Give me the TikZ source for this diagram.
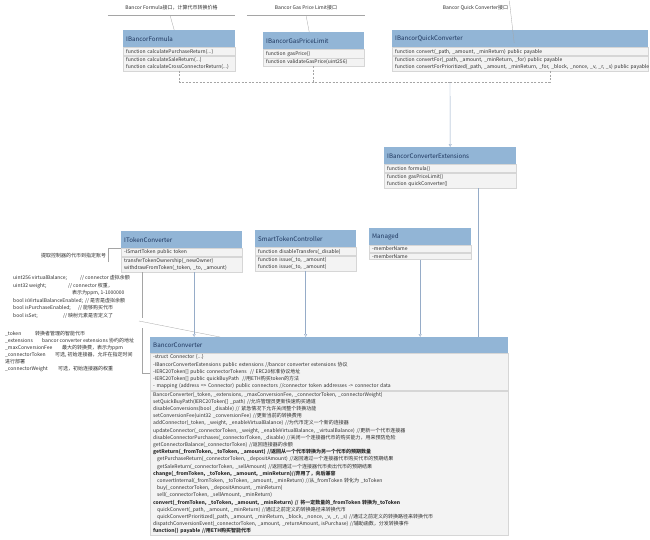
\documentclass[tikz,border=0pt]{standalone}
\usepackage{fontspec}
\setmainfont{Noto Sans CJK SC}
\usetikzlibrary{positioning,arrows.meta}
\definecolor{headblue}{RGB}{146,181,214}
\definecolor{headtext}{RGB}{28,52,92}
\definecolor{rowgray}{RGB}{243,243,243}
\definecolor{rowline}{RGB}{214,214,214}
\definecolor{rowtext}{RGB}{45,45,45}
\definecolor{linkblue}{RGB}{150,172,200}
\definecolor{notegray}{RGB}{165,165,165}
\newcommand{\rowsize}{\fontsize{5}{7.2}\selectfont}
\newcommand{\headsize}{\fontsize{6.2}{7.5}\selectfont}
\tikzset{
	classhead/.style={anchor=north west,fill=headblue,text=headtext,font=\headsize,inner xsep=3pt,inner ysep=0pt,minimum height=17pt,align=left},
	classrow/.style={fill=rowgray,draw=rowline,line width=0.3pt,text=rowtext,font=\rowsize,inner xsep=3pt,inner ysep=1.4pt,align=left},
	notetext/.style={text=rowtext,font=\rowsize,inner sep=0pt,align=left},
	noteline/.style={draw=notegray,line width=0.3pt},
	realize/.style={draw=notegray,line width=0.4pt,dash pattern=on 2pt off 1.5pt},
	inherit/.style={draw=linkblue,line width=0.4pt,-{Triangle[open,length=3pt,width=3pt]}},
}
\begin{document}
\begin{tikzpicture}[x=1pt,y=-1pt]
		\useasboundingbox [fill=white] (0,0) rectangle (650,539);
		%\draw [help lines,step=50] (0,0) grid (650,539);
		\node [classhead,text width=106pt] (formula) at (123,30) {IBancorFormula};
		\node [classrow,text width=106pt,below right=0pt and 0pt of formula.south west] (formula1) {function calculatePurchaseReturn(...)};
		\node [classrow,text width=106pt,below right=0pt and 0pt of formula1.south west] (formula2) {function calculateSaleReturn(...)\\function calculateCrossConnectorReturn(...)};
		\node [classhead,text width=95pt] (gas) at (263,32) {IBancorGasPriceLimit};
		\node [classrow,text width=95pt,below right=0pt and 0pt of gas.south west] (gas1) {function gasPrice()};
		\node [classrow,text width=95pt,below right=0pt and 0pt of gas1.south west] (gas2) {function validateGasPrice(uint256)};
		\node [classhead,text width=250pt] (quick) at (392,30) {IBancorQuickConverter};
		\node [classrow,text width=250pt,below right=0pt and 0pt of quick.south west] (quick1) {function convert(\_path, \_amount, \_minReturn) public payable};
		\node [classrow,text width=250pt,below right=0pt and 0pt of quick1.south west] (quick2) {function convertFor(\_path, \_amount, \_minReturn, \_for) public payable\\\mbox{function convertForPrioritized(\_path, \_amount, \_minReturn, \_for, \_block, \_nonce, \_v, \_r, \_s) public payable}};
		\node [classhead,text width=126pt] (ext) at (384,147) {IBancorConverterExtensions};
		\node [classrow,text width=126pt,below right=0pt and 0pt of ext.south west] (ext1) {function formula()};
		\node [classrow,text width=126pt,below right=0pt and 0pt of ext1.south west] (ext2) {function gasPriceLimit()\\function quickConverter()};
		\node [classhead,text width=115pt] (tokconv) at (121,231) {ITokenConverter};
		\node [classrow,text width=115pt,below right=0pt and 0pt of tokconv.south west] (tokconv1) {-ISmartToken public token};
		\node [classrow,text width=115pt,below right=0pt and 0pt of tokconv1.south west] (tokconv2) {transferTokenOwnership(\_newOwner)\\withdrawFromToken(\_token, \_to, \_amount)};
		\node [classhead,text width=95pt] (smart) at (255,230) {SmartTokenController};
		\node [classrow,text width=95pt,below right=0pt and 0pt of smart.south west] (smart1) {function disableTransfers(\_disable)};
		\node [classrow,text width=95pt,below right=0pt and 0pt of smart1.south west] (smart2) {function issue(\_to, \_amount)\\function issue(\_to, \_amount)};
		\node [classhead,text width=96pt] (managed) at (369,228) {Managed};
		\node [classrow,text width=96pt,below right=0pt and 0pt of managed.south west] (managed1) {-memberName};
		\node [classrow,text width=96pt,below right=0pt and 0pt of managed1.south west] (managed2) {-memberName};
		\node [classhead,text width=352pt,minimum height=16pt] (bancor) at (150,337) {BancorConverter};
		\node [classrow,text width=352pt,below right=0pt and 0pt of bancor.south west] (bancor1) {-struct Connector \{...\}\\
			-IBancorConverterExtensions public extensions //bancor converter extensions 协议\\
			-IERC20Token[] public connectorTokens\ \ // ERC20标准协议地址\\
			-IERC20Token[] public quickBuyPath\ \ //用ETH购买token的方法\\
			- mapping (address => Connector) public connectors //connector token addresses -> connector data};
		\node [classrow,text width=352pt,below right=0pt and 0pt of bancor1.south west] (bancor2) {BancorConverter(\_token, \_extensions, \_maxConversionFee, \_connectorToken, \_connectorWeight)\\
			setQuickBuyPath(IERC20Token[] \_path) //允许管理员更新快速购买通道\\
			disableConversions(bool \_disable) // 紧急情况下允许关闭整个转换功能\\
			setConversionFee(uint32 \_conversionFee) //更新当前的转换费用\\
			addConnector(\_token, \_weight, \_enableVirtualBalance) //为代币定义一个新的连接器\\
			updateConnector(\_connectorToken, \_weight, \_enableVirtualBalance, \_virtualBalance) //更新一个代币连接器\\
			disableConnectorPurchases(\_connectorToken, \_disable) //关闭一个连接器代币的购买能力，用来预防危险\\
			getConnectorBalance(\_connectorToken) //返回连接器的余额\\
			\textbf{getReturn(\_fromToken, \_toToken, \_amount) //返回从一个代币转换为另一个代币的预期数量}\\
			\hspace*{4pt}getPurchaseReturn(\_connectorToken, \_depositAmount) //返回通过一个连接器代币购买代币的预期结果\\
			\hspace*{4pt}getSaleReturn(\_connectorToken, \_sellAmount) //返回通过一个连接器代币卖出代币的预期结果\\
			\textbf{change(\_fromToken, \_toToken, \_amount, \_minReturn)//弃用了，向后兼容}\\
			\hspace*{4pt}convertInternal(\_fromToken, \_toToken, \_amount, \_minReturn) //从\_fromToken 转化为 \_toToken\\
			\hspace*{4pt}buy(\_connectorToken, \_depositAmount, \_minReturn)\\
			\hspace*{4pt}sell(\_connectorToken, \_sellAmount, \_minReturn)\\
			\textbf{convert(\_fromToken, \_toToken, \_amount, \_minReturn) // 将一定数量的\_fromToken 转换为\_toToken}\\
			\hspace*{4pt}quickConvert(\_path, \_amount, \_minReturn) //通过之前定义的转换路径来转换代币\\
			\hspace*{4pt}quickConvertPrioritized(\_path, \_amount, \_minReturn, \_block, \_nonce, \_v, \_r, \_s) //通过之前定义的转换路径来转换代币\\
			dispatchConversionEvent(\_connectorToken, \_amount, \_returnAmount, isPurchase) //辅助函数，分发转换事件\\
			\textbf{function() payable //用ETH购买智能代币}};
		\node [notetext,minimum width=127pt,minimum height=14pt] (formulanote) at (171.5,8) {Bancor Formula接口，计算代币转换价格};
		\node [notetext,minimum width=118pt,minimum height=14pt] (gasnote) at (306,8) {Bancor Gas Price Limit接口};
		\node [notetext,minimum height=14pt] (quicknote) at (475.5,8) {Bancor Quick Converter接口};
		\node [notetext] (tknote) at (73.5,256) {提取控制器的代币到指定账号};
		\node [notetext,anchor=north west,font=\fontsize{5}{7.6}\selectfont] (structnote) at (13,275) {\makebox[67pt][l]{uint256 virtualBalance;}// connector 虚拟余额\\
			\makebox[55pt][l]{uint32 weight;}// connector 权重，\\
			\hspace*{59pt}表示为ppm, 1-1000000\\
			\makebox[72pt][l]{bool isVirtualBalanceEnabled;}// 是否是虚拟余额\\
			\makebox[65pt][l]{bool isPurchaseEnabled;}// 能够购买代币\\
			\makebox[50pt][l]{bool isSet;}// 映射元素是否定义了};
		\node [notetext,anchor=north west,font=\fontsize{5}{7}\selectfont] (ctornote) at (5,331) {\makebox[30pt][l]{\_token}转换者管理的智能代币\\
			\makebox[37pt][l]{\_extensions}bancor converter extensions 协约的地址\\
			\makebox[57pt][l]{\_maxConversionFee}最大的转换费，表示为ppm\\
			\makebox[50pt][l]{\_connectorToken}可选, 初始连接器，允许在指定时间\\
			进行部署\\
			\makebox[53pt][l]{\_connectorWeight}可选，初始连接器的权重};
		\draw [noteline] (formulanote.south west) -- (formulanote.south east);
		\draw [noteline] ([xshift=-1.5pt]formulanote.south) -- ([xshift=-5pt]formula.north);
		\draw [noteline] (gasnote.south west) -- (gasnote.south east);
		\draw [noteline] (gasnote.south) -- ([xshift=-4.5pt]gas.north);
		\draw [noteline] ([xshift=1pt]quicknote.north east) -- ([xshift=-6pt,yshift=-13pt]quick.north);
		\draw [noteline] ([xshift=2pt,yshift=-6pt]tknote.east) |- (tokconv1.north west);
		\coordinate (structbr) at (142,272);
		\draw [noteline] (structbr) -- ++(0,46);
		\draw [noteline] ([xshift=-3pt,yshift=-49pt]structbr) -- ([xshift=70pt]bancor.north west);
		\coordinate (ctorbr) at (142,328);
		\draw [noteline] (ctorbr) |- ([yshift=-20pt]bancor1.north west);
		\coordinate (join) at (450,82);
		\coordinate (quickout) at ([xshift=30pt]quick2.south);
		\draw [realize] (formula2.south) |- (join);
		\draw [realize] (gas2.south) |- (join);
		\draw [realize] (quickout) |- (join);
		\draw [inherit] (join) -- (ext.north);
		\coordinate (tokout) at ([xshift=12.5pt]tokconv2.south);
		\coordinate (extout) at ([xshift=28pt]ext2.south);
		\draw [inherit] (tokout) -- (tokout |- bancor.north);
		\draw [inherit] (smart2.south) -- (smart2.south |- bancor.north);
		\draw [inherit] (managed2.south) -- (managed2.south |- bancor.north);
		\draw [draw=linkblue,line width=0.4pt] (extout) -- (extout |- bancor.north);
	\end{tikzpicture}
\end{document}
